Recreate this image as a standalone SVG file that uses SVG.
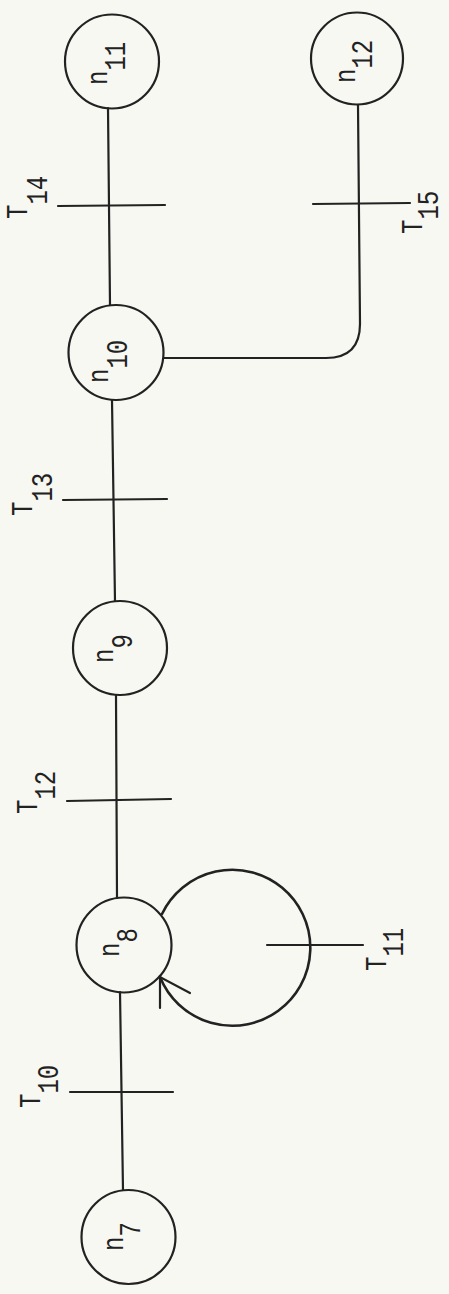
<svg xmlns="http://www.w3.org/2000/svg" width="449" height="1294" viewBox="0 0 449 1294">
<style>
.bg{fill:#f8f8f3}
.node{fill:none;stroke:#222;stroke-width:2.2}
.ln{fill:none;stroke:#222;stroke-width:2.2;stroke-linecap:round}
.lbl{font-family:"Liberation Mono","Courier New",monospace;font-size:24px;fill:#222}
</style>
<rect class="bg" x="0" y="0" width="449" height="1294"/>
<g id="connectors">
<line class="ln" x1="123" y1="1190" x2="120" y2="992"/>
<line class="ln" x1="117" y1="898" x2="116" y2="695"/>
<line class="ln" x1="115" y1="601" x2="112" y2="400"/>
<line class="ln" x1="110" y1="305" x2="108" y2="108"/>
<path class="ln" d="M164,358 L326,358 Q360,358 360,324 L358,105"/>
<path class="ln" d="M162,914 A78,78 0 1 1 160,977" style="stroke-width:2.6"/>
<path class="ln" d="M190,993 L160,977 L160,1008"/>
</g>
<g id="ticks">
<line class="ln" x1="70" y1="1092" x2="173" y2="1092"/>
<line class="ln" x1="267" y1="945" x2="363" y2="945"/>
<line class="ln" x1="67" y1="801" x2="171" y2="799"/>
<line class="ln" x1="63" y1="500" x2="167" y2="499"/>
<line class="ln" x1="58" y1="206" x2="165" y2="205"/>
<line class="ln" x1="313" y1="204" x2="410" y2="203"/>
</g>
<g id="n7"><circle class="node" cx="128.5" cy="1237" r="47"/><text class="lbl" transform="translate(123,1251) rotate(-90) scale(1,1.25)">n<tspan dy="13.6">7</tspan></text></g>
<g id="n8"><circle class="node" cx="124" cy="945" r="47.5"/><text class="lbl" transform="translate(119,957) rotate(-90) scale(1,1.25)">n<tspan dy="14.4">8</tspan></text></g>
<g id="n9"><circle class="node" cx="120" cy="648" r="47"/><text class="lbl" transform="translate(113,663) rotate(-90) scale(1,1.25)">n<tspan dy="15.2">9</tspan></text></g>
<g id="n10"><circle class="node" cx="116" cy="352.5" r="47.5"/><text class="lbl" transform="translate(108,383) rotate(-90) scale(1,1.25)">n<tspan dy="15.2">10</tspan></text></g>
<g id="n11"><circle class="node" cx="112" cy="61.5" r="47"/><text class="lbl" transform="translate(107,85) rotate(-90) scale(1,1.25)">n<tspan dy="14.4">11</tspan></text></g>
<g id="n12"><circle class="node" cx="357" cy="58.5" r="46"/><text class="lbl" transform="translate(355,83) rotate(-90) scale(1,1.25)">n<tspan dy="13.6">12</tspan></text></g>
<g id="labels">
<text class="lbl" transform="translate(40,1108) rotate(-90) scale(1,1.25)">T<tspan dy="14.4">10</tspan></text>
<text class="lbl" transform="translate(386,971) rotate(-90) scale(1,1.25)">T<tspan dy="13.6">11</tspan></text>
<text class="lbl" transform="translate(37,814) rotate(-90) scale(1,1.25)">T<tspan dy="14.4">12</tspan></text>
<text class="lbl" transform="translate(32,516) rotate(-90) scale(1,1.25)">T<tspan dy="16">13</tspan></text>
<text class="lbl" transform="translate(27,219) rotate(-90) scale(1,1.25)">T<tspan dy="16">14</tspan></text>
<text class="lbl" transform="translate(422,234) rotate(-90) scale(1,1.25)">T<tspan dy="12.8">15</tspan></text>
</g>
</svg>
